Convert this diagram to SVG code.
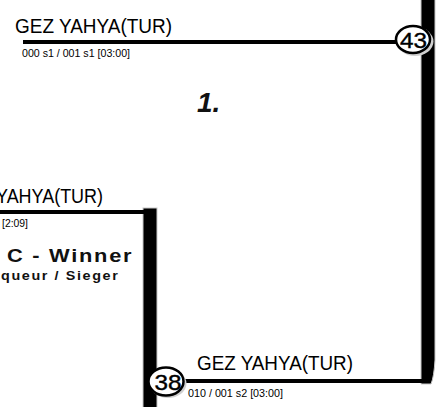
<svg xmlns="http://www.w3.org/2000/svg" width="447" height="407" viewBox="0 0 447 407">
  <style>
    .name { font-family: "Liberation Sans", Arial, sans-serif; font-size: 20px; fill: #000; }
    .meta { font-family: "Liberation Sans", Arial, sans-serif; font-size: 10px; fill: #000; }
    .num { font-family: "Liberation Sans", Arial, sans-serif; font-size: 22px; fill: #000; stroke: #000; stroke-width: 0.4; text-anchor: middle; }
    .wire { stroke: #000; stroke-width: 4; fill: none; }
    .bar { fill: #000; stroke: #c8c8c8; stroke-width: 1; }
    .seed { fill: #fff; stroke: #000; stroke-width: 2.5; }
    .shadow { fill: #d0d0d0; }
    .place { font-family: "Liberation Sans", Arial, sans-serif; font-weight: bold; font-style: italic; font-size: 28px; fill: #111; }
    .title { font-family: "Liberation Sans", Arial, sans-serif; font-weight: bold; fill: #111; }
  </style>
  <rect width="447" height="407" fill="#fff"/>

  <g id="connectors">
    <path class="bar" d="M421 -1 H435 V360 Q434 377 431 384 H421 Z"/>
    <rect class="bar" x="143" y="208" width="14" height="200"/>
    <line class="wire" x1="23" y1="42" x2="398" y2="42"/>
    <line class="wire" x1="0" y1="212" x2="150" y2="212"/>
    <line class="wire" x1="183" y1="381" x2="430" y2="381"/>
  </g>

  <g id="node-top">
    <text class="name" x="15" y="33" textLength="157" lengthAdjust="spacingAndGlyphs">GEZ YAHYA(TUR)</text>
    <text class="meta" x="22" y="57" textLength="108" lengthAdjust="spacingAndGlyphs">000 s1 / 001 s1 [03:00]</text>
    <ellipse class="shadow" cx="415" cy="41.5" rx="18.5" ry="14.5"/>
    <ellipse class="seed" cx="413" cy="39.5" rx="17" ry="13.5"/>
    <text class="num" x="413.5" y="48" textLength="27" lengthAdjust="spacingAndGlyphs">43</text>
  </g>

  <g id="node-place">
    <text class="place" x="197" y="112">1.</text>
  </g>

  <g id="node-left">
    <text class="name" x="-4" y="203" textLength="107" lengthAdjust="spacingAndGlyphs">YAHYA(TUR)</text>
    <text class="meta" x="2" y="227" textLength="26" lengthAdjust="spacingAndGlyphs">[2:09]</text>
    <text class="title" transform="translate(7,262) scale(1.15,1)" font-size="19" letter-spacing="1.5">C - Winner</text>
    <text class="title" transform="translate(1,280) scale(1.15,1)" font-size="12.5" letter-spacing="1.4">queur / Sieger</text>
  </g>

  <g id="node-bottom">
    <text class="name" x="197" y="370" textLength="156" lengthAdjust="spacingAndGlyphs">GEZ YAHYA(TUR)</text>
    <text class="meta" x="188" y="397" textLength="95" lengthAdjust="spacingAndGlyphs">010 / 001 s2 [03:00]</text>
    <ellipse class="shadow" cx="168" cy="383.5" rx="18.5" ry="14.5"/>
    <ellipse class="seed" cx="166" cy="381.5" rx="17.5" ry="14"/>
    <text class="num" x="168" y="390" textLength="27" lengthAdjust="spacingAndGlyphs">38</text>
  </g>
</svg>
